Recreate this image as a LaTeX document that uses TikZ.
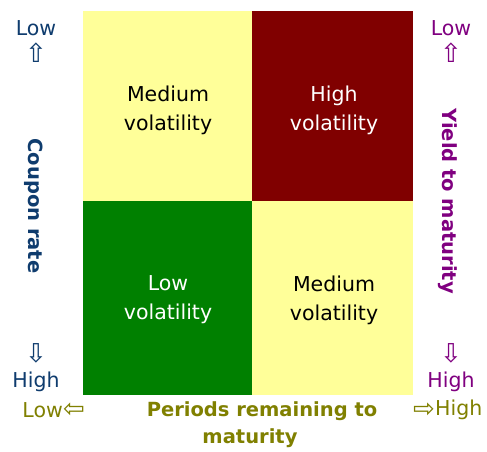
\documentclass[tikz,border=0pt]{standalone}
\usepackage{fontspec}
\setmainfont{DejaVu Sans}
\definecolor{cellyellow}{HTML}{FFFF99}
\definecolor{cellred}{HTML}{800000}
\definecolor{cellgreen}{HTML}{008000}
\definecolor{navy}{HTML}{0F3C6E}
\definecolor{purp}{HTML}{800080}
\definecolor{olive}{HTML}{808000}
\begin{document}
\begin{tikzpicture}[x=1pt,y=-1pt,
  celltext/.style={align=center,font=\fontsize{20.5}{29}\selectfont,inner sep=0pt},
  side/.style={font=\fontsize{20.5}{24}\selectfont,inner sep=0pt},
  arr/.style={font=\fontsize{26}{28}\selectfont,inner sep=0pt},
  axis/.style={font=\fontsize{19.5}{27}\selectfont\bfseries,inner sep=0pt}]
\useasboundingbox (0,0) rectangle (487,452);
\fill[white] (0,0) rectangle (487,452);
% cells
\fill[cellyellow] (83,11) rectangle (252,201);
\fill[cellred] (252,11) rectangle (413,201);
\fill[cellgreen] (83,201) rectangle (252,395);
\fill[cellyellow] (252,201) rectangle (413,395);
\node[celltext] (c1) at (168,110) {Medium\\volatility};
\node[celltext,text=white] (c2) at (334,110) {High\\volatility};
\node[celltext,text=white] (c3) at (168,300) {Low\\volatility};
\node[celltext] (c4) at (334,300) {Medium\\volatility};
% left axis
\node[side,text=navy] (lLow) at (36,28) {Low};
\node[arr,text=navy] (lUp) at (36,53) {⇧};
\node[axis,text=navy,rotate=-90] (lAxis) at (34,206) {Coupon rate};
\node[arr,text=navy] (lDown) at (36,353) {⇩};
\node[side,text=navy] (lHigh) at (36,382) {High};
% right axis
\node[side,text=purp] (rLow) at (451,28) {Low};
\node[arr,text=purp] (rUp) at (451,53) {⇧};
\node[axis,text=purp,rotate=-90] (rAxis) at (448,201) {Yield to maturity};
\node[arr,text=purp] (rDown) at (451,353) {⇩};
\node[side,text=purp] (rHigh) at (451,382) {High};
% bottom axis
\node[side,text=olive,anchor=east] (bLow) at (63,410) {Low};
\node[arr,text=olive,anchor=west] (bLeft) at (bLow.east) {⇦};
\node[axis,text=olive] (bAxis1) at (262,411) {Periods remaining to};
\node[axis,text=olive] (bAxis2) at (250,438) {maturity};
\node[side,text=olive,anchor=west] (bHigh) at (435,410) {High};
\node[arr,text=olive,anchor=east] (bRight) at (bHigh.west) {⇨};
\end{tikzpicture}
\end{document}
